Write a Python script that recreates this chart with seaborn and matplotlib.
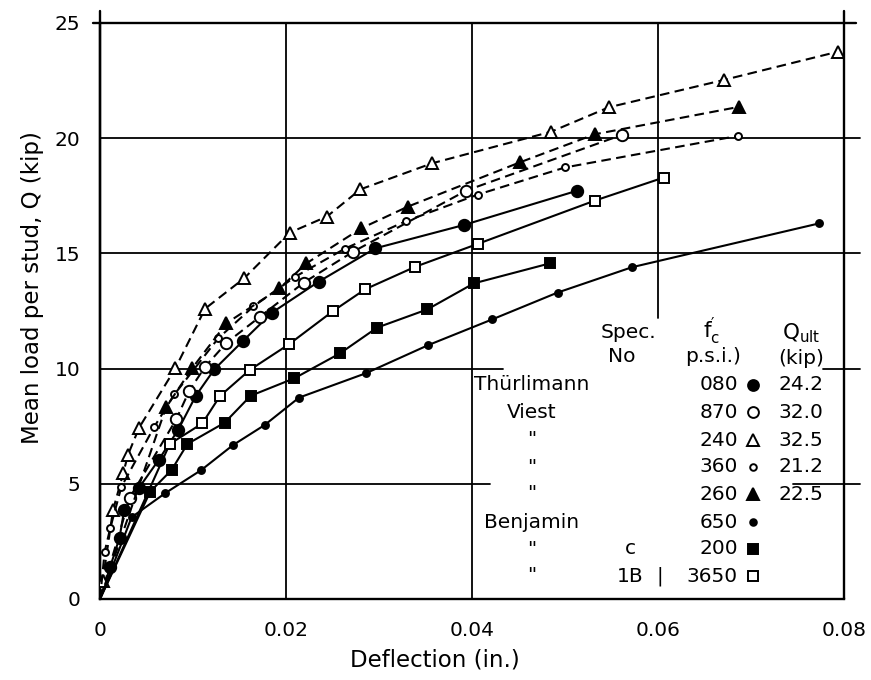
import matplotlib
matplotlib.use("Agg")
import matplotlib.pyplot as plt
import pandas as pd
import seaborn as sns

# ---- load-slip test data: deflection (in.) vs mean load per stud (kip) ----
thurlimann_x = [0, 0.0011, 0.0021, 0.0026, 0.0042, 0.0063, 0.0084, 0.0103, 0.0123,
                0.0154, 0.0185, 0.0235, 0.0296, 0.0391, 0.0513]
thurlimann_q = [0, 1.4, 2.66, 3.86, 4.83, 6.03, 7.34, 8.82, 9.97,
                11.21, 12.43, 13.77, 15.22, 16.23, 17.72]

viest870_x = [0, 0.0032, 0.0082, 0.0096, 0.0113, 0.0136, 0.0172, 0.0219, 0.0272, 0.0394, 0.0561]
viest870_q = [0, 4.4, 7.8, 9.04, 10.08, 11.12, 12.25, 13.73, 15.07, 17.73, 20.14]

viest240_x = [0, 0.0003, 0.0014, 0.0025, 0.0030, 0.0042, 0.0081, 0.0113, 0.0155, 0.0204,
              0.0244, 0.0280, 0.0357, 0.0485, 0.0547, 0.0671, 0.0794]
viest240_q = [0, 0.8, 3.86, 5.46, 6.25, 7.43, 10.01, 12.6, 13.92, 15.9,
              16.6, 17.78, 18.91, 20.28, 21.34, 22.53, 23.76]

viest360_x = [0, 0.0005, 0.0011, 0.0023, 0.0058, 0.0080, 0.0127, 0.0165, 0.0210,
              0.0263, 0.0329, 0.0406, 0.0500, 0.0686]
viest360_q = [0, 2.05, 3.07, 4.87, 7.45, 8.88, 11.31, 12.7, 13.99,
              15.2, 16.4, 17.55, 18.73, 20.1]

viest260_x = [0, 0.0071, 0.0099, 0.0136, 0.0193, 0.0222, 0.0281, 0.0331, 0.0452, 0.0532, 0.0687]
viest260_q = [0, 8.32, 10.01, 11.97, 13.48, 14.57, 16.09, 17.03, 18.96, 20.17, 21.36]

benjamin650_x = [0, 0.0034, 0.0070, 0.0109, 0.0143, 0.0177, 0.0214, 0.0286, 0.0353,
                 0.0422, 0.0492, 0.0572, 0.0773]
benjamin650_q = [0, 3.55, 4.59, 5.6, 6.68, 7.55, 8.74, 9.8, 11.02,
                 12.14, 13.3, 14.4, 16.3]

benjamin200_x = [0, 0.0054, 0.0077, 0.0094, 0.0134, 0.0162, 0.0209, 0.0258, 0.0298,
                 0.0352, 0.0402, 0.0484]
benjamin200_q = [0, 4.66, 5.6, 6.73, 7.65, 8.82, 9.58, 10.66, 11.78,
                 12.57, 13.7, 14.57]

benjamin3650_x = [0, 0.0075, 0.0110, 0.0129, 0.0161, 0.0203, 0.0251, 0.0285, 0.0339,
                  0.0406, 0.0532, 0.0606]
benjamin3650_q = [0, 6.73, 7.62, 8.81, 9.94, 11.05, 12.51, 13.44, 14.42,
                  15.41, 17.29, 18.29]

# table entries
row_authors = ["Thürlimann", "Viest", '"', '"', '"', "Benjamin", '"', '"']
row_spec = ["", "", "", "", "", "", "c", "1B"]
row_fc = ["080", "870", "240", "360", "260", "650", "200", "3650"]
row_qult = ["24.2", "32.0", "32.5", "21.2", "22.5", "", "", ""]

xticks = [0, 0.02, 0.04, 0.06, 0.08]
xtick_labels = ["0", "0.02", "0.04", "0.06", "0.08"]
yticks = [0, 5, 10, 15, 20, 25]
ytick_labels = ["0", "5", "10", "15", "20", "25"]

# (x, q, marker, size, filled, dashed)
series = [
    (thurlimann_x, thurlimann_q, "o", 8.2, True, False),
    (viest870_x, viest870_q, "o", 8.2, False, True),
    (viest240_x, viest240_q, "^", 9.2, False, True),
    (viest360_x, viest360_q, "o", 5.0, False, True),
    (viest260_x, viest260_q, "^", 8.7, True, True),
    (benjamin650_x, benjamin650_q, "o", 5.0, True, False),
    (benjamin200_x, benjamin200_q, "s", 7.2, True, False),
    (benjamin3650_x, benjamin3650_q, "s", 7.7, False, False),
]

sns.set_style("white")
plt.rcParams["font.family"] = ["DejaVu Sans"]
plt.rcParams["mathtext.fontset"] = "dejavusans"
plt.rcParams["text.color"] = "black"
plt.rcParams["axes.labelcolor"] = "black"

W, H = 871, 680
fig = plt.figure(figsize=(W / 100, H / 100), dpi=100)
L, R, T, B = 100, 844, 23, 599
ax = fig.add_axes([L / W, 1 - B / H, (R - L) / W, (B - T) / H])
ax.set_xlim(0, 0.08)
ax.set_ylim(0, 25)

lw_grid = 1.3
# grid lines (partly interrupted around the table)
ax.axhline(5, 0, 0.524, color="black", lw=lw_grid, zorder=1)
ax.axhline(5, 0.931, 1.022, color="black", lw=lw_grid, zorder=1, clip_on=False)
ax.axhline(10, 0, 0.542, color="black", lw=lw_grid, zorder=1)
ax.axhline(10, 0.972, 1.022, color="black", lw=lw_grid, zorder=1, clip_on=False)
ax.axhline(15, 0, 1.022, color="black", lw=lw_grid, zorder=1, clip_on=False)
ax.axhline(20, 0, 1.022, color="black", lw=lw_grid, zorder=1, clip_on=False)
ax.axhline(25, -0.01, 1.016, color="black", lw=1.7, zorder=1, clip_on=False)
ax.axvline(0.02, 0, 1, color="black", lw=lw_grid, zorder=1)
ax.axvline(0.04, 0, 1, color="black", lw=lw_grid, zorder=1)
ax.axvline(0.06, 0.488, 1, color="black", lw=lw_grid, zorder=1)
ax.axvline(0.08, 0, 1.02, color="black", lw=1.7, zorder=1, clip_on=False)
ax.axvline(0.0, 0, 1.02, color="black", lw=1.7, zorder=1, clip_on=False)

for sp in ["top", "right"]:
    ax.spines[sp].set_visible(False)
for sp in ["left", "bottom"]:
    ax.spines[sp].set_linewidth(1.7)
    ax.spines[sp].set_color("black")

for x, q, mk, ms, filled, dashed in series:
    df = pd.DataFrame({"deflection": x, "load": q})
    sns.lineplot(
        data=df, x="deflection", y="load", ax=ax, estimator=None, sort=False,
        legend=False, color="black", lw=1.5,
        linestyle=(0, (4.6, 2.6)) if dashed else "-",
        marker=mk, markersize=ms,
        markerfacecolor="black" if filled else "white",
        markeredgecolor="black", markeredgewidth=1.4,
        markevery=slice(1, None), zorder=3,
    )

ax.set_xticks(xticks)
ax.set_xticklabels(xtick_labels)
ax.set_yticks(yticks)
ax.set_yticklabels(ytick_labels)
ax.tick_params(axis="x", direction="inout", length=12, width=1.5, pad=10,
               labelsize=14.5, colors="black")
ax.tick_params(axis="y", direction="out", length=8, width=1.5, pad=6,
               labelsize=14.5, colors="black")
ax.set_xlabel("Deflection (in.)", fontsize=16.5, x=0.45, labelpad=6)
ax.set_ylabel("Mean load per stud, Q (kip)", fontsize=16.5, y=0.54, labelpad=8)


def fx(px):
    return (px - L) / (R - L)


def fy(py):
    return (B - py) / (B - T)


fs = 14.5
# table header
ax.text(fx(628), fy(333), "Spec.", transform=ax.transAxes, ha="center", va="center", fontsize=fs)
ax.text(fx(622), fy(357), "No", transform=ax.transAxes, ha="center", va="center", fontsize=fs)
ax.text(fx(712), fy(331), r"$\mathregular{f^{\prime}_{c}}$", transform=ax.transAxes,
        ha="center", va="center", fontsize=fs + 1)
ax.text(fx(713), fy(357), "p.s.i.)", transform=ax.transAxes, ha="center", va="center", fontsize=fs)
ax.text(fx(801), fy(333), r"$\mathregular{Q_{ult}}$", transform=ax.transAxes,
        ha="center", va="center", fontsize=fs + 1)
ax.text(fx(801), fy(358), "(kip)", transform=ax.transAxes, ha="center", va="center", fontsize=fs)

row_py = [385, 412, 440, 467, 494, 522, 549, 576]
for i, py in enumerate(row_py):
    x, q, mk, ms, filled, dashed = series[i]
    ax.text(fx(532), fy(py), row_authors[i], transform=ax.transAxes,
            ha="center", va="center", fontsize=fs)
    if row_spec[i]:
        ax.text(fx(630), fy(py), row_spec[i], transform=ax.transAxes,
                ha="center", va="center", fontsize=fs)
    ax.text(fx(738), fy(py), row_fc[i], transform=ax.transAxes,
            ha="right", va="center", fontsize=fs)
    ax.plot([fx(753)], [fy(py)], transform=ax.transAxes, linestyle="none",
            marker=mk, markersize=ms * 0.95,
            markerfacecolor="black" if filled else "white",
            markeredgecolor="black", markeredgewidth=1.4, clip_on=False)
    if row_qult[i]:
        ax.text(fx(778), fy(py), row_qult[i], transform=ax.transAxes,
                ha="left", va="center", fontsize=fs)
ax.text(fx(660), fy(row_py[-1]), "|", transform=ax.transAxes,
        ha="center", va="center", fontsize=fs)

fig.savefig("out.png", dpi=100)
